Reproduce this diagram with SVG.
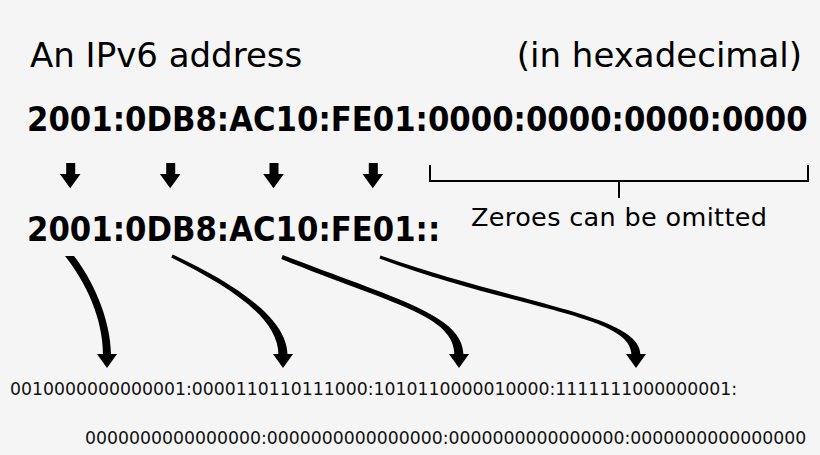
<svg xmlns="http://www.w3.org/2000/svg" width="820" height="455" viewBox="0 0 820 455">
  <style>
    .t { font-family: "DejaVu Sans", "Liberation Sans", sans-serif; fill: #000; }
    .big { font-size: 34px; }
    .bold { font-size: 30.8px; font-weight: bold; }
    .mid { font-size: 25.5px; }
    .bin { font-size: 17.3px; fill: #111; }
    .arrow { fill: #000; stroke: none; }
    .bracket { fill: none; stroke: #000; stroke-width: 2; }
  </style>
  <rect width="820" height="455" fill="#f5f5f5"/>

  <g id="title">
    <text class="t big" x="30" y="67">An IPv6 address</text>
    <text class="t big" x="802" y="67" text-anchor="end">(in hexadecimal)</text>
  </g>

  <g id="full-address" transform="translate(0,131) scale(1,1.1)">
    <text class="t bold" x="27" y="0">2001:0DB8:AC10:FE01:0000:0000:0000:0000</text>
  </g>

  <g id="zero-bracket">
    <path class="bracket" d="M430,165 V181 H808 V165 M619,181 V198"/>
    <text class="t mid" x="471" y="226" textLength="296" lengthAdjust="spacing">Zeroes can be omitted</text>
  </g>

  <g id="short-address" transform="translate(0,241) scale(1,1.1)">
    <text class="t bold" x="27" y="0">2001:0DB8:AC10:FE01::</text>
  </g>

  <g id="binary">
    <text class="t bin" x="10" y="394.5">0010000000000001:0000110110111000:1010110000010000:1111111000000001:</text>
    <text class="t bin" x="85" y="444">0000000000000000:0000000000000000:0000000000000000:0000000000000000</text>
  </g>

  <g id="connectors">
    <!-- small straight arrows -->
    <path class="arrow" d="M66.2,163 h9 v11 h5.3 l-10.3,14.3 l-10.3,-14.3 h6.3 z"/>
    <path class="arrow" d="M166.2,163 h9 v11 h5.3 l-10.3,14.3 l-10.3,-14.3 h6.3 z"/>
    <path class="arrow" d="M269.5,163 h9 v11 h5.3 l-10.3,14.3 l-10.3,-14.3 h6.3 z"/>
    <path class="arrow" d="M368.8,163 h9 v11 h5.3 l-10.3,14.3 l-10.3,-14.3 h6.3 z"/>

    <!-- curved tapered arrows -->
    <path class="arrow" d="M65,256 L74,256 C91.1,277.5 111,318 111,355 L103,355 C103,318 85.9,282.5 65,256 Z"/>
    <path class="arrow" d="M97,354 L117,354 L107,368 Z"/>

    <path class="arrow" d="M171.2,257.6 L172.8,254.4 C233.2,282.5 287.5,318 287.5,355 L278.5,355 C278.5,318 230.8,287.5 171.2,257.6 Z"/>
    <path class="arrow" d="M273,354 L293,354 L283,368 Z"/>

    <path class="arrow" d="M281.3,258.9 L282.7,255.1 C394.7,298.6 463.5,315 463.5,355 L454.5,355 C454.5,315 392.5,304.2 281.3,258.9 Z"/>
    <path class="arrow" d="M449,354 L469,354 L459,368 Z"/>

    <path class="arrow" d="M379.5,258.4 L380.5,255.6 C522,305.2 640.5,315 640.5,355 L631.5,355 C631.5,315 520,310.8 379.5,258.4 Z"/>
    <path class="arrow" d="M626,354 L646,354 L636,368 Z"/>
  </g>
</svg>
